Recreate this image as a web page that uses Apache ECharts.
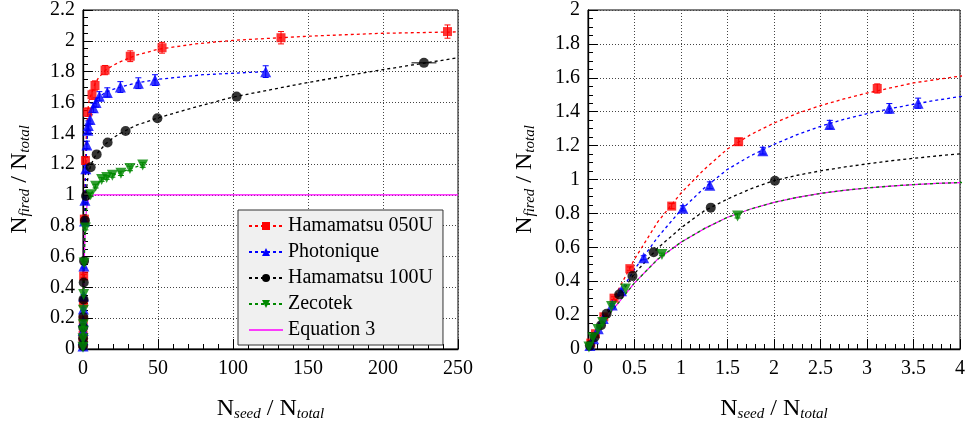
<!DOCTYPE html>
<html><head><meta charset="utf-8">
<script src="https://cdn.jsdelivr.net/npm/echarts@6/dist/echarts.min.js"></script>
<style>html,body{margin:0;padding:0;background:#fff}#c{width:968px;height:427px}</style>
</head><body><div id="c"></div>
<script>
// ---- data ----
const legendNames = ['Hamamatsu 050U', 'Photonique', 'Hamamatsu 100U', 'Zecotek', 'Equation 3'];

const h050X = [0.03, 0.08, 0.17, 0.28, 0.45, 0.90, 1.62, 3.11, 6.0, 8.0, 14.7, 31.5, 52.7, 132, 243];
const h050Y = [0.035, 0.09, 0.19, 0.30, 0.474, 0.843, 1.223, 1.537, 1.65, 1.71, 1.81, 1.90, 1.955, 2.02, 2.06];
const h050E = [0, 0, 0, 0.008, 0.01, 0.015, 0.02, 0.027, 0.03, 0.03, 0.03, 0.035, 0.035, 0.04, 0.043];

const photX = [0.02, 0.06, 0.11, 0.164, 0.26, 0.36, 0.599, 1.02, 1.31, 1.88, 2.60, 3.24, 3.55, 4.7, 6.9, 8.7, 10.9, 16.2, 24.9, 36.9, 48, 121.8];
const photY = [0.02, 0.06, 0.12, 0.18, 0.26, 0.344, 0.538, 0.83, 0.966, 1.17, 1.324, 1.42, 1.45, 1.49, 1.565, 1.60, 1.64, 1.665, 1.70, 1.725, 1.745, 1.80];
const photE = [0, 0, 0, 0, 0.008, 0.01, 0.012, 0.015, 0.02, 0.02, 0.025, 0.028, 0.03, 0.03, 0.03, 0.03, 0.03, 0.03, 0.035, 0.035, 0.035, 0.038];

const h100X = [0.02, 0.07, 0.14, 0.2, 0.335, 0.478, 0.706, 1.32, 2.01, 5.1, 9.1, 16.4, 28.4, 49.6, 102.4, 227.3];
const h100Y = [0.02, 0.07, 0.14, 0.208, 0.322, 0.431, 0.571, 0.834, 0.993, 1.18, 1.263, 1.34, 1.415, 1.498, 1.638, 1.857];
const h100E = [0, 0, 0, 0, 0, 0, 0, 0, 0, 0, 0, 0, 0, 0, 0, 0];
const h100XE = [0, 0, 0, 0, 0, 0, 0, 0, 0, 0, 0, 0, 0, 0, 0, 8.3];

const zecoX = [0.01, 0.053, 0.107, 0.157, 0.253, 0.403, 0.795, 1.608, 5.1, 8.4, 12.4, 15.8, 19.6, 25.3, 31.3, 39.8];
const zecoY = [0.012, 0.066, 0.115, 0.157, 0.251, 0.354, 0.558, 0.785, 1.001, 1.057, 1.10, 1.113, 1.127, 1.14, 1.172, 1.194];
const zecoE = [0, 0, 0, 0, 0, 0, 0.008, 0.012, 0.012, 0.012, 0.012, 0.012, 0.012, 0.014, 0.015, 0.015];

// fitted (dashed) curves
const h050FitX = [0, 0.25, 0.5, 0.75, 1, 1.25, 1.5, 1.75, 2, 2.25, 2.5, 2.75, 3, 3.25, 3.5, 3.75, 4, 5, 6, 8, 10, 15, 20, 25, 35, 50, 75, 100, 150, 200, 250];
const h050FitY = [0, 0.27, 0.53, 0.75, 0.92, 1.06, 1.18, 1.265, 1.333, 1.39, 1.436, 1.475, 1.51, 1.54, 1.57, 1.59, 1.61, 1.64, 1.665, 1.72, 1.755, 1.81, 1.84, 1.865, 1.905, 1.945, 1.98, 2.003, 2.03, 2.049, 2.058];
const photFitX = [0, 0.25, 0.5, 0.75, 1, 1.25, 1.5, 1.75, 2, 2.25, 2.5, 2.75, 3, 3.25, 3.5, 3.75, 4, 5, 6, 8, 10, 15, 20, 25, 35, 50, 80, 122];
const photFitY = [0, 0.25, 0.47, 0.66, 0.82, 0.95, 1.06, 1.14, 1.207, 1.265, 1.314, 1.355, 1.388, 1.418, 1.444, 1.468, 1.489, 1.53, 1.56, 1.60, 1.63, 1.665, 1.685, 1.70, 1.725, 1.75, 1.78, 1.80];
const h100FitX = [0, 0.25, 0.5, 0.75, 1, 1.25, 1.5, 1.75, 2, 2.25, 2.5, 2.75, 3, 3.25, 3.5, 3.75, 4, 5, 6, 8, 10, 15, 20, 25, 35, 50, 75, 100, 150, 200, 250];
const h100FitY = [0, 0.245, 0.445, 0.595, 0.715, 0.815, 0.885, 0.945, 0.993, 1.025, 1.051, 1.073, 1.092, 1.11, 1.125, 1.139, 1.151, 1.185, 1.21, 1.25, 1.275, 1.33, 1.37, 1.40, 1.45, 1.50, 1.57, 1.635, 1.73, 1.813, 1.89];
const zecoFitX = [0, 0.25, 0.5, 0.75, 1, 1.25, 1.5, 1.75, 2, 2.25, 2.5, 2.75, 3, 3.25, 3.5, 3.75, 4, 5, 8.4, 12.4, 15.8, 19.6, 25.3, 31.3, 39.8];
const zecoFitY = [0, 0.22, 0.39, 0.53, 0.63, 0.71, 0.777, 0.826, 0.865, 0.895, 0.918, 0.936, 0.95, 0.961, 0.97, 0.977, 0.982, 1.0, 1.057, 1.10, 1.113, 1.127, 1.145, 1.17, 1.195];
const eq3X = [0, 0.25, 0.5, 0.75, 1, 1.25, 1.5, 1.75, 2, 2.25, 2.5, 2.75, 3, 3.25, 3.5, 3.75, 4, 5, 6, 8, 250];
const eq3Y = [0, 0.22, 0.39, 0.53, 0.63, 0.71, 0.777, 0.826, 0.865, 0.895, 0.918, 0.936, 0.95, 0.961, 0.97, 0.977, 0.982, 0.993, 0.998, 1.0, 1.0];

const leftXTicks = {min: 0, max: 250, interval: 50};
const leftYTicks = {min: 0, max: 2.2, interval: 0.2};
const rightXTicks = {min: 0, max: 4, interval: 0.5};
const rightYTicks = {min: 0, max: 2, interval: 0.2};

// ---- build ----
const FONT = 'Liberation Serif';
const zip = (a, b) => a.map((v, i) => [v, b[i]]);
const RED = '#ff0000', BLUE = '#0000ff', BLACK = '#000000', GREEN = '#008800', MAG = '#ff00ff';

const sets = [
  {name: legendNames[0], x: h050X, y: h050Y, e: h050E, xe: null, fx: h050FitX, fy: h050FitY, color: RED, symbol: 'rect', size: 9, rot: 0},
  {name: legendNames[1], x: photX, y: photY, e: photE, xe: null, fx: photFitX, fy: photFitY, color: BLUE, symbol: 'triangle', size: 11, rot: 0},
  {name: legendNames[2], x: h100X, y: h100Y, e: h100E, xe: h100XE, fx: h100FitX, fy: h100FitY, color: BLACK, symbol: 'circle', size: 10, rot: 0},
  {name: legendNames[3], x: zecoX, y: zecoY, e: zecoE, xe: null, fx: zecoFitX, fy: zecoFitY, color: GREEN, symbol: 'triangle', size: 11, rot: 180},
];

function errSeries(s, xi, xmax) {
  const data = s.x.map((x, i) => [x, s.y[i], s.e[i], s.xe ? s.xe[i] : 0]);
  return {
    type: 'custom', xAxisIndex: xi, yAxisIndex: xi, z: 4, silent: true,
    dimensions: ['x', 'y', 'ey', 'ex'], encode: {x: 0, y: 1}, data,
    renderItem(params, api) {
      const x = api.value(0), y = api.value(1), ey = api.value(2), ex = api.value(3);
      if (x > xmax) return null;
      const c = api.coord([x, y]);
      const ch = [];
      const st = {stroke: s.color, lineWidth: 1};
      if (ey > 0) {
        const t = api.coord([x, y + ey])[1], b = api.coord([x, y - ey])[1];
        ch.push({type: 'line', shape: {x1: c[0], y1: t, x2: c[0], y2: b}, style: st});
        ch.push({type: 'line', shape: {x1: c[0] - 3, y1: t, x2: c[0] + 3, y2: t}, style: st});
        ch.push({type: 'line', shape: {x1: c[0] - 3, y1: b, x2: c[0] + 3, y2: b}, style: st});
      }
      if (ex > 0) {
        const l = api.coord([x - ex, y])[0], r = api.coord([x + ex, y])[0];
        ch.push({type: 'line', shape: {x1: l, y1: c[1], x2: r, y2: c[1]}, style: st});
      }
      return {type: 'group', children: ch};
    }
  };
}

const series = [];
[[0, 250], [1, 4]].forEach(([xi, xmax]) => {
  series.push({
    name: legendNames[4], type: 'line', xAxisIndex: xi, yAxisIndex: xi, data: zip(eq3X, eq3Y),
    smooth: false, symbol: 'none', z: 2, silent: true,
    lineStyle: {color: MAG, width: 1.2}, itemStyle: {color: MAG}
  });
  sets.forEach(s => {
    series.push({
      name: s.name, type: 'line', xAxisIndex: xi, yAxisIndex: xi, data: zip(s.fx, s.fy),
      smooth: false, symbol: s.symbol, symbolRotate: s.rot, showSymbol: false, z: 3, silent: true,
      lineStyle: {color: s.color, width: 1.3, type: [3, 3]}, itemStyle: {color: s.color}
    });
    series.push(errSeries(s, xi, xmax));
    series.push({
      name: s.name + ' pts' + xi, type: 'scatter', xAxisIndex: xi, yAxisIndex: xi, data: zip(s.x, s.y),
      symbol: s.symbol, symbolRotate: s.rot, symbolSize: s.size, z: 5, silent: true,
      itemStyle: {color: s.color}
    });
  });
});

const labelStyle = {color: '#000', fontFamily: FONT, fontSize: 20};
const rich = {
  n: {fontFamily: FONT, fontSize: 24, color: '#000'},
  s: {fontFamily: FONT, fontSize: 15, fontStyle: 'italic', color: '#000', padding: [12, 0, 0, 0]}
};
function xAxis(t, gi, minorN) {
  return {
    type: 'value', gridIndex: gi, min: t.min, max: t.max, interval: t.interval,
    name: '{n|N}{s|seed}{n| / N}{s|total}', nameLocation: 'middle', nameGap: 46,
    nameTextStyle: {rich, fontFamily: FONT},
    axisLine: {show: true, onZero: false, lineStyle: {color: '#000', width: 1.3}},
    axisTick: {show: true, inside: true, length: 10, lineStyle: {color: '#000'}},
    minorTick: {show: true, splitNumber: minorN, length: 5, lineStyle: {color: '#000'}},
    axisLabel: Object.assign({margin: 10, formatter: v => String(+v.toFixed(2)), showMaxLabel: true, showMinLabel: true}, labelStyle),
    splitLine: {show: true, lineStyle: {color: '#444', type: [1, 2], width: 1}},
    minorSplitLine: {show: false}
  };
}
function yAxis(t, gi, gap) {
  return {
    type: 'value', gridIndex: gi, min: t.min, max: t.max, interval: t.interval,
    name: '{n|N}{s|fired}{n| / N}{s|total}', nameLocation: 'middle', nameGap: gap,
    nameTextStyle: {rich, fontFamily: FONT},
    axisLine: {show: true, onZero: false, lineStyle: {color: '#000', width: 1.3}},
    axisTick: {show: true, inside: true, length: 10, lineStyle: {color: '#000'}},
    minorTick: {show: true, splitNumber: 4, length: 5, lineStyle: {color: '#000'}},
    axisLabel: Object.assign({margin: 8, formatter: v => String(+v.toFixed(2)), showMaxLabel: true, showMinLabel: true}, labelStyle),
    splitLine: {show: true, lineStyle: {color: '#444', type: [1, 2], width: 1}},
    minorSplitLine: {show: false}
  };
}

const chart = echarts.init(document.getElementById('c'), null, {renderer: 'canvas'});
chart.setOption({
  animation: false,
  backgroundColor: '#fff',
  textStyle: {fontFamily: FONT},
  grid: [
    {left: 83, right: 510, top: 10, bottom: 74, show: true, borderColor: '#000', borderWidth: 1},
    {left: 588, right: 6, top: 10, bottom: 74, show: true, borderColor: '#000', borderWidth: 1}
  ],
  xAxis: [xAxis(leftXTicks, 0, 5), xAxis(rightXTicks, 1, 5)],
  yAxis: [yAxis(leftYTicks, 0, 50), yAxis(rightYTicks, 1, 50)],
  legend: {
    orient: 'vertical', left: 238, top: 210, width: 210,
    backgroundColor: '#f0f0f0', borderColor: '#333', borderWidth: 1,
    padding: [6, 10, 5, 10], itemGap: 6, itemWidth: 34, itemHeight: 10,
    selectedMode: false,
    textStyle: {fontFamily: FONT, fontSize: 20, color: '#000'},
    data: [
      {name: legendNames[0]}, {name: legendNames[1]}, {name: legendNames[2]}, {name: legendNames[3]},
      {name: legendNames[4], icon: 'path://M0,0L100,0L100,4L0,4Z'}
    ]
  },
  series
});
</script></body></html>
